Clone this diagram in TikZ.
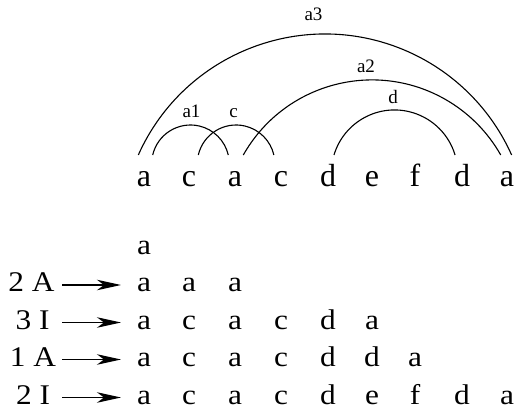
\documentclass[tikz,border=0pt]{standalone}
\usepackage{fontspec}
\setmainfont{Liberation Serif}
\newfontfamily\rowfont[FakeStretch=1.1]{Liberation Serif}
\usetikzlibrary{arrows.meta}
\tikzset{
  topletter/.style={font=\fontsize{32}{34}\selectfont, inner sep=0pt, anchor=base},
  letter/.style={font=\rowfont\fontsize{28.5}{31}\selectfont, inner sep=0pt, anchor=base},
  rowlabel/.style={font=\rowfont\fontsize{28.5}{31}\selectfont, inner sep=0pt, anchor=base},
  arclabel/.style={font=\fontsize{19}{21}\selectfont, inner sep=0pt, anchor=base},
  arcline/.style={line width=1.1pt},
  arr/.style={line width=1.3pt, -{Stealth[length=24pt,width=10.5pt,inset=7pt]}}
}
\begin{document}
\begin{tikzpicture}[x=1pt,y=-1pt]
\useasboundingbox (0,0) rectangle (517,414);
% top row
\foreach \ch [count=\j] in {a,c,a,c,d,e,f,d,a}{
  \pgfmathsetmacro{\xx}{{144,189,235,281,328,372,415,462,507}[\j-1]}
  \node[topletter] (t\j) at (\xx,186.5) {\ch};
}
% arcs
\coordinate (a3s) at (138.3,155);
\coordinate (a2s) at (243.3,155);
\coordinate (a1s) at (152.7,155);
\coordinate (cs) at (198.3,155);
\coordinate (ds) at (334,155);
\draw[arcline] (a3s) arc[start angle=155.9, end angle=24.1, radius=204.5pt];
\draw[arcline] (a2s) arc[start angle=150.5, end angle=29.5, radius=147.9pt];
\draw[arcline] (a1s) arc[start angle=166.9, end angle=13.1, radius=38.8pt];
\draw[arcline] (cs) arc[start angle=166.9, end angle=13.1, radius=38.8pt];
\draw[arcline] (ds) arc[start angle=163.3, end angle=16.7, radius=63.2pt];
\node[arclabel] (la3) at (313.5,20.5) {a3};
\node[arclabel] (la2) at (366,72.7) {a2};
\node[arclabel] (ld) at (393,103.3) {d};
\node[arclabel] (la1) at (191.5,117.7) {a1};
\node[arclabel] (lc) at (233.7,117.7) {c};
% bottom rows
\node[letter] (r1-1) at (144,254.5) {a};
\foreach \ch [count=\j] in {a,a,a}{
  \pgfmathsetmacro{\xx}{{144,189,235}[\j-1]}
  \node[letter] (r2-\j) at (\xx,291.5) {\ch};
}
\foreach \ch [count=\j] in {a,c,a,c,d,a}{
  \pgfmathsetmacro{\xx}{{144,189,235,281,328,372}[\j-1]}
  \node[letter] (r3-\j) at (\xx,329) {\ch};
}
\foreach \ch [count=\j] in {a,c,a,c,d,d,a}{
  \pgfmathsetmacro{\xx}{{144,189,235,281,328,372,415}[\j-1]}
  \node[letter] (r4-\j) at (\xx,366) {\ch};
}
\foreach \ch [count=\j] in {a,c,a,c,d,e,f,d,a}{
  \pgfmathsetmacro{\xx}{{144,189,235,281,328,372,415,462,507}[\j-1]}
  \node[letter] (r5-\j) at (\xx,404) {\ch};
}
% row labels and arrows
\node[rowlabel] (l2) at (31.5,291.5) {2 A};
\node[rowlabel] (l3) at (32.5,329) {3 I};
\node[rowlabel] (l4) at (33,366) {1 A};
\node[rowlabel] (l5) at (33,404) {2 I};
\foreach \r/\y in {2/291.5,3/329,4/366,5/404}{
  \coordinate (s\r) at (62,\y-6.5);
  \coordinate (e\r) at (121,\y-6.5);
  \draw[arr] (s\r) -- (e\r);
}
\end{tikzpicture}
\end{document}
